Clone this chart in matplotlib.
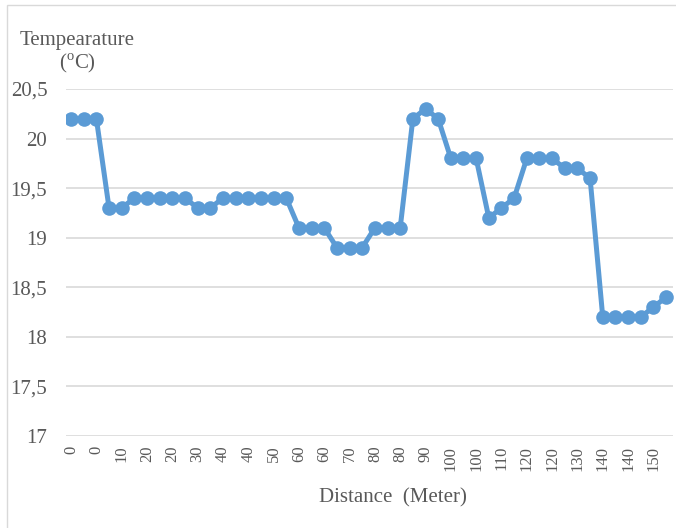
import matplotlib
matplotlib.use("Agg")
import matplotlib.pyplot as plt
from matplotlib.patches import Rectangle

# temperature readings along the transect, one per station
temperature = [
    20.2, 20.2, 20.2, 19.3, 19.3, 19.4, 19.4, 19.4, 19.4, 19.4,
    19.3, 19.3, 19.4, 19.4, 19.4, 19.4, 19.4, 19.4, 19.1, 19.1,
    19.1, 18.9, 18.9, 18.9, 19.1, 19.1, 19.1, 20.2, 20.3, 20.2,
    19.8, 19.8, 19.8, 19.2, 19.3, 19.4, 19.8, 19.8, 19.8, 19.7,
    19.7, 19.6, 18.2, 18.2, 18.2, 18.2, 18.3, 18.4,
]
# distance labels shown on every second station
distance_labels = [
    "0", "0", "10", "20", "20", "30", "40", "40", "50", "60", "60", "70",
    "80", "80", "90", "100", "100", "110", "120", "120", "130", "140", "140", "150",
]
y_ticks = [17, 17.5, 18, 18.5, 19, 19.5, 20, 20.5]
y_tick_labels = ["17", "17,5", "18", "18,5", "19", "19,5", "20", "20,5"]

plt.rcParams["font.family"] = ["Liberation Serif", "DejaVu Serif"]
plt.rcParams["mathtext.fontset"] = "custom"
plt.rcParams["mathtext.rm"] = "Liberation Serif"

text_color = "#595959"
line_color = "#5B9BD5"
grid_color = "#D9D9D9"

fig = plt.figure(figsize=(6.76, 5.28), dpi=100)
ax = fig.add_axes([66 / 676, 1 - 436 / 528, (673 - 66) / 676, (436 - 89) / 528])

# chart frame
fig.patches.append(Rectangle((7 / 676, -0.1), 1.2, 1 - 5 / 528 + 0.1,
                             transform=fig.transFigure, fill=False,
                             edgecolor="#D9D9D9", linewidth=1.0))

x = list(range(len(temperature)))
ax.plot(x, temperature, color=line_color, linewidth=3.6,
        marker="o", markersize=10.5, markeredgewidth=0, zorder=3)

ax.set_ylim(17, 20.5)
ax.set_xlim(-0.4, len(temperature) - 0.45)
ax.set_yticks(y_ticks)
ax.set_yticklabels(y_tick_labels)
ax.set_xticks(x[::2])
ax.set_xticklabels(distance_labels, rotation=90, va="top", ha="center")

ax.tick_params(axis="y", length=0, pad=13.5, labelsize=15, labelcolor=text_color)
ax.tick_params(axis="x", length=0, pad=7, labelsize=12, labelcolor=text_color)

ax.grid(axis="y", color=grid_color, linewidth=1.2)
ax.set_axisbelow(True)
for side in ["top", "right", "left", "bottom"]:
    ax.spines[side].set_visible(False)

fig.text(77 / 676, 1 - 53 / 528, "Tempearature\n(${}^{\\mathrm{o}}$C)", ha="center",
         va="center", fontsize=15, color=text_color, linespacing=1.15)
fig.text(393 / 676, 1 - 498 / 528, "Distance  (Meter)", ha="center", va="center",
         fontsize=15, color=text_color)

fig.savefig("out.png", dpi=100)
